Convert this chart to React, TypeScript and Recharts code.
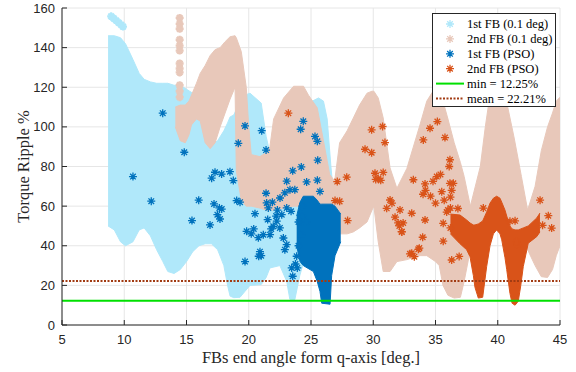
import {
  ComposedChart,
  Area,
  Scatter,
  XAxis,
  YAxis,
  CartesianGrid,
  ReferenceLine,
  Legend
} from 'recharts'

const angleTicks = [5, 10, 15, 20, 25, 30, 35, 40, 45]
const rippleTicks = [0, 20, 40, 60, 80, 100, 120, 140, 160]
const minRipple = 12.25
const meanRipple = 22.21

// 1st FB swept at 0.1 deg: envelope of the dense cloud
const fb1Angle = [8.7, 9.2, 9.7, 10.1, 10.7, 11.2, 11.6, 12.1, 12.6, 13.1, 13.5, 14.0, 14.5, 15.0, 15.5, 16.0, 16.5, 17.0, 17.5, 18.0, 18.3, 18.5, 18.8, 19.3, 19.7, 20.1, 21.0, 21.4, 21.7, 22.5, 23.05, 23.3, 23.7, 24.1, 24.8, 25.6, 26.0, 26.3, 26.6, 26.9]
const fb1Low = [50, 48, 42, 40, 42, 48, 49, 45, 38, 32, 27, 26, 28, 32, 37, 40, 41, 41, 38, 30, 20, 14.6, 13.8, 14, 17, 20, 20.4, 24, 28.8, 30, 22, 13, 12.8, 25, 40, 45, 45, 45, 50, 55]
const fb1High = [146, 146, 145, 142, 134, 127, 124, 122.7, 122, 122, 122, 121, 121, 119, 117, 110, 100, 91, 93, 98, 102, 105, 106, 113, 116, 117, 112, 95, 87, 98, 102, 104, 107, 108, 112, 114.6, 113, 104, 80, 60]
const fb1StrayAngle = [8.95, 9.15, 9.35, 9.55, 9.75, 9.9]
const fb1StrayRipple = [155.8, 154.8, 153.7, 152.6, 151.5, 150.6]

// 2nd FB swept at 0.1 deg
const fb2Angle = [14.1, 14.5, 14.9, 15.2, 15.4, 15.8, 16.1, 16.5, 16.9, 17.3, 17.7, 18.1, 18.5, 18.9, 19.0, 19.4, 19.8, 20.0, 20.2, 20.9, 21.4, 21.7, 22.0, 22.8, 23.6, 24.4, 24.8, 25.5, 26.0, 26.5, 26.9, 27.3, 27.9, 28.4, 28.9, 29.5, 29.9, 30.05, 30.4, 30.8, 31.35, 31.9, 32.7, 33.75, 34.3, 35.0, 35.3, 35.6, 36.0, 36.5, 37.0, 37.3, 37.8, 38.2, 38.6, 39.0, 39.3, 39.9, 40.7, 41.3, 41.9, 42.4, 43.0, 43.5, 44.0, 44.4, 44.7, 45.0]
const fb2Low = [100, 93, 92, 96, 101, 104, 103, 92, 89, 92, 100, 107, 114, 120, 78, 63, 60, 60, 60, 59, 58, 58, 58, 59, 60, 60, 60, 58, 55, 50, 47, 46, 46, 47, 49, 52, 58, 60, 42, 27, 27, 32, 33, 35, 35, 32, 30, 20, 15, 13.6, 14, 22, 38, 40, 40, 42, 45, 48, 45, 42, 40, 38, 30, 24.4, 24, 28, 35, 40]
const fb2High = [110, 111, 111, 113, 116, 122, 127, 131, 136, 139, 140, 143, 145.5, 146, 145, 138, 120, 100, 86, 85, 87, 90, 104, 114.6, 120.5, 120.5, 116, 109.6, 93, 76, 72.6, 92, 98, 104.5, 111, 117, 118, 118, 114.6, 104.5, 79.3, 69, 79, 101, 113, 120, 118, 113, 104, 92, 82, 75, 60, 70, 80, 100, 113, 125, 113, 95, 75, 58, 70, 88, 100, 107, 113, 115]
const fb2StrayAngle = [14.45, 14.45, 14.45, 14.45, 14.45, 14.45, 14.45, 14.45, 14.45, 14.45, 14.45, 14.45]
const fb2StrayRipple = [155, 152, 149.5, 144, 141, 138.5, 132, 129.5, 127.5, 121, 118, 115]

// PSO runs: dense cores
const pso1CoreAngle = [23.85, 24.12, 24.38, 25.19, 25.5, 25.72, 25.86, 26.53, 26.66, 26.93, 27.39]
const pso1CoreLow = [40, 32, 30, 27, 22, 17, 11, 10.5, 25, 35, 42]
const pso1CoreHigh = [55, 62, 65, 65, 63, 61, 61, 61, 61, 60, 56]

const pso2CoreAngle = [36.2, 36.97, 37.5, 37.77, 38.04, 38.17, 38.44, 38.79, 39.11, 39.38, 39.65, 39.91, 40.18, 40.32, 40.58, 40.72, 40.98, 41.15, 41.39, 41.65, 41.85, 42.05, 42.45, 43.13, 43.39]
const pso2CoreLow = [46, 41, 38, 34.5, 25, 19, 13.6, 14, 29.5, 40, 46, 48, 46, 43, 34, 28, 16, 11, 10, 12, 20, 29.5, 41.3, 44.6, 47]
const pso2CoreHigh = [56, 55.5, 53, 51.5, 50.5, 50.5, 51, 52.5, 57, 61.5, 64, 65, 64, 62, 58, 55, 50, 48.5, 48, 48, 48.5, 49, 50, 54, 56.5]

// PSO runs: individual results
const pso1Angle = [13.09, 14.82, 10.7, 12.17, 15.98, 15.44, 16.89, 17.02, 17.29, 17.82, 18.49, 18.76, 17.21, 17.64, 17.48, 17.69, 17.83, 19.03, 19.3, 19.7, 19.16, 21.04, 21.39, 21.39, 21.44, 21.57, 19.7, 20.5, 19.83, 20.2, 20.4, 20.77, 20.9, 21.0, 20.8, 21.17, 21.71, 21.52, 21.97, 22.25, 22.5, 22.65, 22.51, 22.9, 23.05, 23.31, 23.7, 23.05, 23.4, 22.78, 23.05, 22.9, 23.85, 23.75, 23.45, 23.9, 23.53, 24.2, 24.0, 24.3, 24.6, 24.0, 24.3, 21.8, 22.2, 23.53, 24.22, 24.65, 25.51, 25.72, 25.54, 25.32, 25.51, 24.17, 24.38, 21.9, 22.3]
const pso1Ripple = [106.9, 87.2, 74.9, 62.5, 63.0, 52.7, 50.5, 74.1, 77.1, 76.2, 77.4, 72.9, 61.1, 59.1, 55.7, 53.5, 58.5, 62.8, 62, 100.5, 91.7, 98.1, 88.3, 66.5, 61.6, 59.1, 32, 56.2, 47.3, 46, 48.5, 44.1, 37, 35, 34.7, 45.6, 45.6, 53.2, 49.8, 52.4, 49, 55.7, 64.1, 66.7, 72.6, 68.3, 68.3, 59.1, 57.4, 43.9, 40.6, 38, 34.7, 30.8, 28.8, 28.8, 24.6, 45.5, 40, 55, 52, 52, 60, 48.5, 55, 77.8, 79.8, 72.2, 73.1, 67.4, 83.2, 95.2, 92.7, 98.8, 102.8, 62, 58]

const pso2Angle = [23.18, 27.11, 27.87, 26.93, 27.3, 27.94, 29.87, 30.75, 29.34, 29.87, 30.94, 30.14, 30.4, 30.8, 30.2, 30.6, 31.35, 31.5, 31.08, 32.15, 31.75, 32.0, 32.4, 32.1, 32.3, 33.09, 32.28, 33.97, 33.7, 33.22, 34.16, 33.09, 33.3, 33.62, 32.95, 34.56, 35.15, 34.02, 35.76, 36.16, 36.1, 35.1, 35.4, 34.8, 34.2, 35.5, 36.16, 36.3, 36.43, 34.0, 34.6, 35.0, 35.7, 36.0, 36.2, 36.2, 34.16, 35.62, 36.2, 35.62, 36.3, 36.9, 35.9, 36.8, 38.84, 41.39, 40.98, 41.57, 41.5, 43.4, 44.06, 44.33, 43.6]
const pso2Ripple = [106.9, 72.4, 74.6, 62.8, 62.4, 52.7, 98.5, 100.2, 88.7, 87, 92.1, 76.6, 74, 77, 73.5, 73, 63.1, 61.5, 58.9, 58.1, 54.4, 51.5, 51.5, 50, 47, 56.4, 47.1, 44.3, 38.8, 73.3, 71.2, 36.2, 34.5, 38.2, 35.9, 99.3, 102.7, 93.4, 94.6, 83.4, 80, 74.9, 76, 72.5, 68, 67.3, 71.5, 68, 71.5, 66, 65, 61.5, 63, 58, 59, 64.5, 53, 51.3, 49, 42.3, 32.8, 34.6, 57, 58.8, 59, 52.6, 52.4, 40.6, 42, 63, 55.2, 48.9, 50.3]

const legendLabels = ['1st FB (0.1 deg)', '2nd FB (0.1 deg)', '1st FB (PSO)', '2nd FB (PSO)', `min = ${minRipple}%`, `mean = ${meanRipple}%`]

const LIGHT_BLUE = '#B0E8FA'
const PEACH = '#E8C8BA'
const BLUE = '#0072BD'
const ORANGE = '#D95319'
const GREEN = '#00E000'
const BROWN = '#A23B12'
const SERIF = 'Liberation Serif, Times New Roman, DejaVu Serif, serif'

const band = (angle: number[], low: number[], high: number[]) =>
  angle.map((a, i) => ({ angle: a, range: [low[i], high[i]] }))

const points = (angle: number[], ripple: number[]) =>
  angle.map((a, i) => ({ angle: a, ripple: ripple[i] }))

function asteriskPath(cx: number, cy: number, r: number) {
  const d = r * 0.7
  return `M${cx - r} ${cy}H${cx + r}M${cx} ${cy - r}V${cy + r}M${cx - d} ${cy - d}L${cx + d} ${cy + d}M${cx - d} ${cy + d}L${cx + d} ${cy - d}`
}

function asterisk(color: string, r: number, w: number) {
  return (props: any) => {
    const { cx, cy } = props
    if (cx == null || cy == null) return <g />
    return <path d={asteriskPath(cx, cy, r)} stroke={color} strokeWidth={w} fill="none" />
  }
}

function LegendBox() {
  const icons = [
    <path d={asteriskPath(17, 0, 4)} stroke={LIGHT_BLUE} strokeWidth={1.3} fill="none" />,
    <path d={asteriskPath(17, 0, 4)} stroke={PEACH} strokeWidth={1.3} fill="none" />,
    <path d={asteriskPath(17, 0, 4)} stroke={BLUE} strokeWidth={1.3} fill="none" />,
    <path d={asteriskPath(17, 0, 4)} stroke={ORANGE} strokeWidth={1.3} fill="none" />,
    <line x1={3} x2={31} y1={0} y2={0} stroke={GREEN} strokeWidth={2} />,
    <line x1={3} x2={31} y1={0} y2={0} stroke={BROWN} strokeWidth={2} strokeDasharray="2 1.5" />
  ]
  return (
    <div style={{ width: 122, height: 92, background: '#fff', border: '1px solid #262626', position: 'relative' }}>
      <svg width={122} height={92} style={{ position: 'absolute', left: 0, top: 0 }}>
        {legendLabels.map((label, i) => (
          <g key={label} transform={`translate(0, ${10 + i * 14.9})`}>
            {icons[i]}
            <text x={34} y={0} dy="0.35em" style={{ fontFamily: SERIF, fontSize: 12.5 }} fill="#000">
              {label}
            </text>
          </g>
        ))}
      </svg>
    </div>
  )
}

export default function App() {
  const tickStyle = { fontSize: 13, fill: '#262626', fontFamily: 'Liberation Sans, Arial, sans-serif' }
  return (
    <div style={{ position: 'absolute', left: 0, top: 0, width: 576, height: 372, background: '#fff' }}>
      <ComposedChart width={576} height={372} margin={{ top: 8, right: 16, bottom: 11, left: 22 }}>
        <CartesianGrid stroke="#E6E6E6" strokeWidth={1} />
        <XAxis
          type="number"
          dataKey="angle"
          domain={[5, 45]}
          ticks={angleTicks}
          allowDataOverflow
          height={36}
          tickSize={-5}
          tickMargin={15}
          tick={tickStyle}
          axisLine={{ stroke: '#262626' }}
          tickLine={{ stroke: '#262626' }}
          label={(p: any) => (
            <text
              x={p.viewBox.x + p.viewBox.width / 2}
              y={363}
              textAnchor="middle"
              style={{ fontFamily: SERIF, fontSize: 16.5 }}
              fill="#262626"
            >
              FBs end angle form q-axis [deg.]
            </text>
          )}
        />
        <YAxis
          type="number"
          domain={[0, 160]}
          ticks={rippleTicks}
          allowDataOverflow
          width={40}
          tickSize={-5}
          tickMargin={12}
          tick={tickStyle}
          axisLine={{ stroke: '#262626' }}
          tickLine={{ stroke: '#262626' }}
          label={(p: any) => (
            <text
              x={23}
              y={p.viewBox.y + p.viewBox.height / 2}
              transform={`rotate(-90 23 ${p.viewBox.y + p.viewBox.height / 2})`}
              textAnchor="middle"
              dominantBaseline="central"
              style={{ fontFamily: SERIF, fontSize: 16.5 }}
              fill="#262626"
            >
              Torque Ripple %
            </text>
          )}
        />
        <Legend
          layout="horizontal"
          verticalAlign="middle"
          align="center"
          content={() => <LegendBox />}
          wrapperStyle={{ left: 432, top: 13, width: 124, height: 94 }}
        />
        <Area
          data={band(fb1Angle, fb1Low, fb1High)}
          dataKey="range"
          type="linear"
          fill={LIGHT_BLUE}
          fillOpacity={1}
          stroke={LIGHT_BLUE}
          strokeWidth={1}
          dot={false}
          activeDot={false}
          isAnimationActive={false}
        />
        <Scatter data={points(fb1StrayAngle, fb1StrayRipple)} dataKey="ripple" shape={asterisk(LIGHT_BLUE, 4, 2.2)} isAnimationActive={false} />
        <Area
          data={band(fb2Angle, fb2Low, fb2High)}
          dataKey="range"
          type="linear"
          fill={PEACH}
          fillOpacity={1}
          stroke={PEACH}
          strokeWidth={1}
          dot={false}
          activeDot={false}
          isAnimationActive={false}
        />
        <Scatter data={points(fb2StrayAngle, fb2StrayRipple)} dataKey="ripple" shape={asterisk(PEACH, 4, 2.4)} isAnimationActive={false} />
        <Area
          data={band(pso1CoreAngle, pso1CoreLow, pso1CoreHigh)}
          dataKey="range"
          type="linear"
          fill={BLUE}
          fillOpacity={1}
          stroke={BLUE}
          strokeWidth={1}
          dot={false}
          activeDot={false}
          isAnimationActive={false}
        />
        <Scatter data={points(pso1Angle, pso1Ripple)} dataKey="ripple" shape={asterisk(BLUE, 4, 1.3)} isAnimationActive={false} />
        <Area
          data={band(pso2CoreAngle, pso2CoreLow, pso2CoreHigh)}
          dataKey="range"
          type="linear"
          fill={ORANGE}
          fillOpacity={1}
          stroke={ORANGE}
          strokeWidth={1}
          dot={false}
          activeDot={false}
          isAnimationActive={false}
        />
        <Scatter data={points(pso2Angle, pso2Ripple)} dataKey="ripple" shape={asterisk(ORANGE, 4, 1.3)} isAnimationActive={false} />
        <ReferenceLine y={minRipple} stroke={GREEN} strokeWidth={2} />
        <ReferenceLine y={meanRipple} stroke={BROWN} strokeWidth={2} strokeDasharray="2 1.5" />
      </ComposedChart>
    </div>
  )
}
